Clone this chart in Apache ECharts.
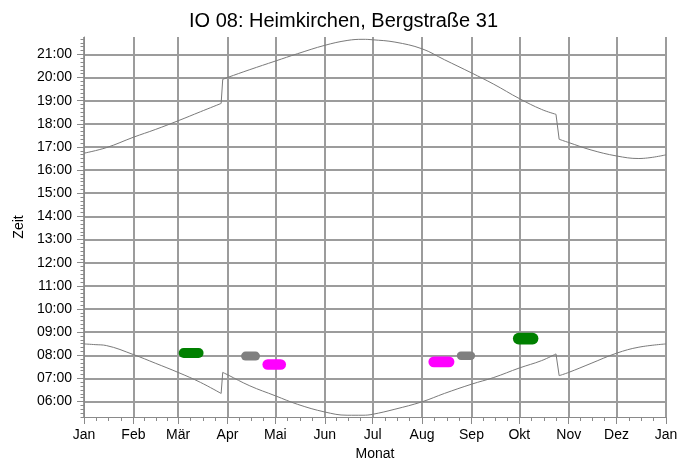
<!DOCTYPE html>
<html><head><meta charset="utf-8">
<script src="https://cdn.jsdelivr.net/npm/echarts@6/dist/echarts.min.js"></script>
<style>html,body{margin:0;padding:0;background:#fff}#c{width:695px;height:462px}</style>
</head><body><div id="c"></div>
<script>
// ---- data ----
const monthLabels = ['Jan','Feb','Mär','Apr','Mai','Jun','Jul','Aug','Sep','Okt','Nov','Dez','Jan'];
const monthStartDays = [0,31,59,90,120,151,181,212,243,273,304,334,365];
const hourTicks = [6,7,8,9,10,11,12,13,14,15,16,17,18,19,20,21];

// sunset (upper curve): day of year, time in hours
const sunsetDays  = [0,14,31,45,59,73,86,87,90,104,120,134,151,165,175,181,195,212,226,243,257,273,287,296,298,304,318,334,348,365];
const sunsetTimes = [16.73,16.97,17.42,17.76,18.13,18.52,18.88,19.92,20.0,20.34,20.71,21.03,21.39,21.6,21.65,21.63,21.53,21.24,20.77,20.2,19.71,19.09,18.62,18.41,17.33,17.19,16.87,16.61,16.5,16.66];

// sunrise (lower curve)
const sunriseDays  = [0,7,14,31,45,59,73,86,87,90,104,120,134,151,165,175,181,195,212,226,243,257,273,287,296,298,304,318,334,348,365];
const sunriseTimes = [8.49,8.46,8.42,8.03,7.65,7.26,6.83,6.35,7.26,7.16,6.68,6.25,5.88,5.55,5.41,5.41,5.45,5.67,5.99,6.35,6.75,7.04,7.45,7.77,8.06,7.12,7.26,7.65,8.09,8.35,8.49];

// days before clock changes (last day of old time)
const clockChangeDays = [86, 296];

// shadow periods (day start, day end, latest time, earliest time)
const greenDayStart = [59.4, 269];
const greenDayEnd   = [75.0, 285];
const greenTimeHigh = [8.31, 8.97];
const greenTimeLow  = [7.88, 8.47];

const grayDayStart = [98.5, 233.8];
const grayDayEnd   = [110.4, 245.3];
const grayTimeHigh = [8.16, 8.16];
const grayTimeLow  = [7.77, 7.80];

const magentaDayStart = [111.9, 216.0];
const magentaDayEnd   = [126.7, 232.3];
const magentaTimeHigh = [7.83, 7.95];
const magentaTimeLow  = [7.37, 7.48];

// ---- build ----
const FONT = "'Liberation Sans', Arial, sans-serif";
const GRID_COLOR = '#9c9c9c';
const AXIS_COLOR = '#8a8a8a';
const CURVE_COLOR = '#7a7a7a';

const minorDays = [];
for (let m = 0; m < 12; m++) {
  const a = monthStartDays[m], b = monthStartDays[m + 1];
  for (let k = 1; k < 4; k++) minorDays.push(a + (b - a) * k / 4);
}
const Y_MIN = 5 + 20 / 60, Y_MAX = 21.75;
const minorTimes = [];
for (let t = 320; t <= 21 * 60 + 40; t += 10) {
  if (t % 60 !== 0) minorTimes.push(t / 60);
}

function zip(a, b) { return a.map((v, i) => [v, b[i]]); }
function rows(ds, de, th, tl) { return ds.map((v, i) => [v, de[i], th[i], tl[i]]); }

function curveSeries(name, days, times) {
  const pts = zip(days, times);
  const cuts = clockChangeDays.map(d => days.indexOf(d));
  const out = [];
  let start = 0;
  const base = { type: 'line', symbol: 'none', xAxisIndex: 0, yAxisIndex: 0, name: name,
                 lineStyle: { color: CURVE_COLOR, width: 1 } };
  cuts.forEach(ci => {
    out.push(Object.assign({}, base, { data: pts.slice(start, ci + 1), smooth: 0.4 }));
    out.push(Object.assign({}, base, { data: pts.slice(ci, ci + 2), smooth: false }));
    start = ci + 1;
  });
  out.push(Object.assign({}, base, { data: pts.slice(start), smooth: 0.4 }));
  return out;
}

function blobSeries(name, color, data) {
  return {
    type: 'custom', name: name, xAxisIndex: 0, yAxisIndex: 0,
    data: data, encode: { x: [0, 1], y: [2, 3] },
    renderItem: function (params, api) {
      const p1 = api.coord([api.value(0), api.value(2)]);
      const p2 = api.coord([api.value(1), api.value(3)]);
      const w = p2[0] - p1[0], h = p2[1] - p1[1];
      return { type: 'rect', shape: { x: p1[0], y: p1[1], width: w, height: h, r: Math.min(w, h) / 2 },
               style: { fill: color } };
    }
  };
}

const pad = v => (v < 10 ? '0' : '') + v + ':00';

const chart = echarts.init(document.getElementById('c'), null, { renderer: 'canvas' });
chart.setOption({
  animation: false,
  backgroundColor: '#fff',
  title: {
    text: 'IO 08: Heimkirchen, Bergstraße 31', left: 184, top: 6,
    textStyle: { fontFamily: FONT, fontSize: 20, fontWeight: 'normal', color: '#000' }
  },
  grid: { left: 84, right: 29, top: 37, bottom: 45, containLabel: false, outerBoundsMode: 'none' },
  xAxis: [{
    type: 'value', min: 0, max: 365,
    name: 'Monat', nameLocation: 'middle', nameGap: 19,
    nameTextStyle: { fontFamily: FONT, fontSize: 14, color: '#000' },
    axisLine: { show: true, lineStyle: { color: AXIS_COLOR, width: 1 } },
    axisTick: { show: true, customValues: monthStartDays, length: 7, lineStyle: { color: AXIS_COLOR } },
    axisLabel: { customValues: monthStartDays, margin: 11, fontFamily: FONT, fontSize: 14, color: '#000',
                 formatter: v => monthLabels[monthStartDays.indexOf(Math.round(v))] },
    splitLine: { show: true, lineStyle: { color: GRID_COLOR, width: 2 } }
  }, {
    type: 'value', min: 0, max: 365, position: 'bottom',
    axisLine: { show: false },
    axisTick: { show: true, customValues: minorDays, length: 4, lineStyle: { color: AXIS_COLOR } },
    axisLabel: { show: false },
    splitLine: { show: false }
  }],
  yAxis: [{
    type: 'value', min: Y_MIN, max: Y_MAX,
    name: 'Zeit', nameLocation: 'middle', nameGap: 58,
    nameTextStyle: { fontFamily: FONT, fontSize: 14, color: '#000' },
    axisLine: { show: true, lineStyle: { color: AXIS_COLOR, width: 1 } },
    axisTick: { show: true, customValues: hourTicks, length: 7, lineStyle: { color: AXIS_COLOR } },
    axisLabel: { customValues: hourTicks, margin: 12, fontFamily: FONT, fontSize: 14, color: '#000',
                 formatter: v => pad(Math.round(v)) },
    splitLine: { show: true, lineStyle: { color: GRID_COLOR, width: 2 } }
  }, {
    type: 'value', min: Y_MIN, max: Y_MAX, position: 'left',
    axisLine: { show: false },
    axisTick: { show: true, customValues: minorTimes, length: 3.5, lineStyle: { color: AXIS_COLOR } },
    axisLabel: { show: false },
    splitLine: { show: false }
  }],
  series: [].concat(
    curveSeries('Sonnenuntergang', sunsetDays, sunsetTimes),
    curveSeries('Sonnenaufgang', sunriseDays, sunriseTimes),
    [
      blobSeries('grün', '#008000', rows(greenDayStart, greenDayEnd, greenTimeHigh, greenTimeLow)),
      blobSeries('grau', '#808080', rows(grayDayStart, grayDayEnd, grayTimeHigh, grayTimeLow)),
      blobSeries('magenta', '#ff00ff', rows(magentaDayStart, magentaDayEnd, magentaTimeHigh, magentaTimeLow))
    ]
  )
});
</script></body></html>
